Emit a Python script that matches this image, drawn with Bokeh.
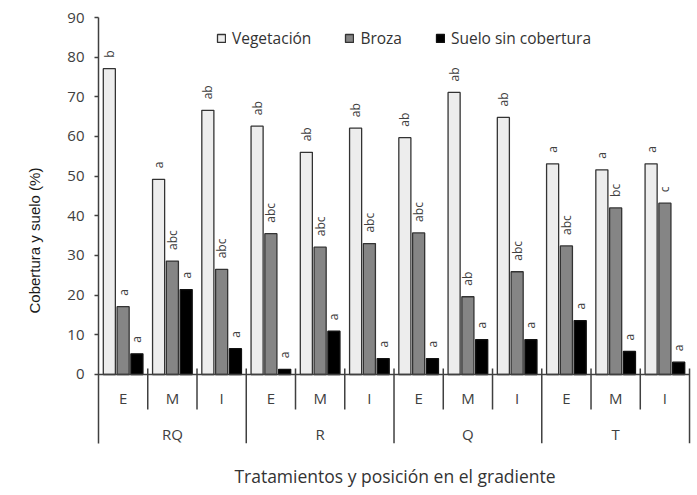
import math

from bokeh.core.properties import value
from bokeh.embed import file_html
from bokeh.models import FixedTicker, Legend, LegendItem, Range1d, Title
from bokeh.plotting import figure
from bokeh.resources import INLINE

# Tratamientos (grupos) y posición en el gradiente (subcategorías)
treatments = ["RQ", "R", "Q", "T"]
positions = ["E", "M", "I"]

# Cobertura (%) por tratamiento y posición, en el orden RQ-E, RQ-M, RQ-I, R-E, ...
vegetacion = [77.1, 49.2, 66.6, 62.6, 56.0, 62.1, 59.7, 71.1, 64.8, 53.1, 51.6, 53.1]
broza = [17.1, 28.6, 26.5, 35.5, 32.1, 33.0, 35.7, 19.6, 25.9, 32.4, 42.0, 43.2]
suelo = [5.2, 21.4, 6.5, 1.3, 10.9, 4.0, 4.0, 8.8, 8.8, 13.6, 5.8, 3.1]

# Letras de significación sobre cada barra
letras_veg = ["b", "a", "ab", "ab", "ab", "ab", "ab", "ab", "ab", "a", "a", "a"]
letras_broza = ["a", "abc", "abc", "abc", "abc", "abc", "abc", "ab", "abc", "abc", "bc", "c"]
letras_suelo = ["a"] * 12

y_ticks = list(range(0, 91, 10))

series_names = ["Vegetación", "Broza", "Suelo sin cobertura"]

# ---- geometry / style -------------------------------------------------------
Y_MIN = -17.4
BAR_W = 0.245
DODGE = 0.28
AXIS_COLOR = "#404040"
TEXT_COLOR = "#404040"
FONT = "Open Sans"

n = len(treatments) * len(positions)
slots = [i + 0.5 for i in range(n)]

p = figure(
    width=697, height=495,
    x_range=Range1d(0, 12.04), y_range=Range1d(Y_MIN, 90),
    output_backend="svg", toolbar_location=None, title=None,
    min_border_left=98, min_border_right=6, min_border_top=17, min_border_bottom=52,
)
p.outline_line_color = None
p.xgrid.visible = False
p.ygrid.visible = False
p.background_fill_color = "white"
p.border_fill_color = "white"

# y axis
p.yaxis.ticker = FixedTicker(ticks=y_ticks)
p.yaxis.minor_tick_line_color = None
p.yaxis.major_tick_in = 0
p.yaxis.major_tick_out = 4
p.yaxis.major_tick_line_color = AXIS_COLOR
p.yaxis.major_tick_line_width = 1.3
p.yaxis.axis_line_color = AXIS_COLOR
p.yaxis.axis_line_width = 1.5
p.yaxis.major_label_standoff = 10
p.yaxis.major_label_text_font = FONT
p.yaxis.major_label_text_font_size = "15px"
p.yaxis.major_label_text_color = TEXT_COLOR

# x axis only carries the title; categories are drawn below
p.xaxis.ticker = FixedTicker(ticks=[])
p.xaxis.axis_line_color = None
p.xaxis.major_tick_line_color = None
p.xaxis.minor_tick_line_color = None
p.xaxis.major_tick_out = 0
p.xaxis.major_tick_in = 0
p.xaxis.major_label_standoff = 0
p.xaxis.axis_label = "Tratamientos y posición en el gradiente"
p.xaxis.axis_label_standoff = 20
p.xaxis.axis_label_text_font = FONT
p.xaxis.axis_label_text_font_size = "17.5px"
p.xaxis.axis_label_text_font_style = "normal"
p.xaxis.axis_label_text_color = "#333333"

# bars
x_veg = [s - DODGE for s in slots]
x_broza = [s for s in slots]
x_suelo = [s + DODGE for s in slots]

r_veg = p.vbar(x=x_veg, top=vegetacion, width=BAR_W, fill_color="#ededed",
               line_color="#333333", line_width=1.3)
r_broza = p.vbar(x=x_broza, top=broza, width=BAR_W, fill_color="#858585",
                 line_color="#333333", line_width=1.3)
r_suelo = p.vbar(x=x_suelo, top=suelo, width=BAR_W, fill_color="#000000",
                 line_color="#111111", line_width=1.3)

# significance letters
for xs, tops, letters in ((x_veg, vegetacion, letras_veg),
                          (x_broza, broza, letras_broza),
                          (x_suelo, suelo, letras_suelo)):
    p.text(x=xs, y=tops, text=letters, angle=math.pi / 2,
           text_align="left", text_baseline="middle", y_offset=-11,
           text_font=value(FONT), text_font_size=value("12px"),
           text_color=TEXT_COLOR)

# category axis: baseline, separators and labels
p.segment(x0=[0], y0=[0], x1=[12], y1=[0], line_color=AXIS_COLOR, line_width=1.5)
minor_b = [i for i in range(1, n) if i % 3]
major_b = [i for i in range(3, n + 1, 3)]
p.segment(x0=minor_b, y0=[1.5] * len(minor_b), x1=minor_b, y1=[-8.8] * len(minor_b),
          line_color=AXIS_COLOR, line_width=1.5)
p.segment(x0=major_b, y0=[1.5] * len(major_b), x1=major_b, y1=[Y_MIN] * len(major_b),
          line_color=AXIS_COLOR, line_width=1.5)

sub_labels = positions * len(treatments)
p.text(x=slots, y=[-6.05] * n, text=sub_labels, text_align="center",
       text_baseline="middle", text_font=value(FONT), text_font_size=value("15px"),
       text_color=TEXT_COLOR)
group_x = [3 * g + 1.5 for g in range(len(treatments))]
p.text(x=group_x, y=[-14.9] * len(treatments), text=treatments, text_align="center",
       text_baseline="middle", text_font=value(FONT), text_font_size=value("15px"),
       text_color=TEXT_COLOR)

# y axis title, placed in the left side panel
p.add_layout(Title(text="Cobertura y suelo (%)", align="left", offset=130,
                   standoff=44, text_font="Liberation Sans", text_font_size="15px",
                   text_font_style="normal", text_color="#1a1a1a"), "left")

# legend
legend = Legend(
    items=[LegendItem(label=series_names[0], renderers=[r_veg]),
           LegendItem(label=series_names[1], renderers=[r_broza]),
           LegendItem(label=series_names[2], renderers=[r_suelo])],
    orientation="horizontal", location=(118, 394),
    glyph_width=10, glyph_height=10, label_standoff=6, spacing=33,
    padding=0, margin=0, border_line_color=None, background_fill_alpha=0,
    label_text_font=FONT, label_text_font_size="15.5px", label_text_color="#333333",
)
p.add_layout(legend)

open("out.html", "w").write(file_html(p, INLINE))
